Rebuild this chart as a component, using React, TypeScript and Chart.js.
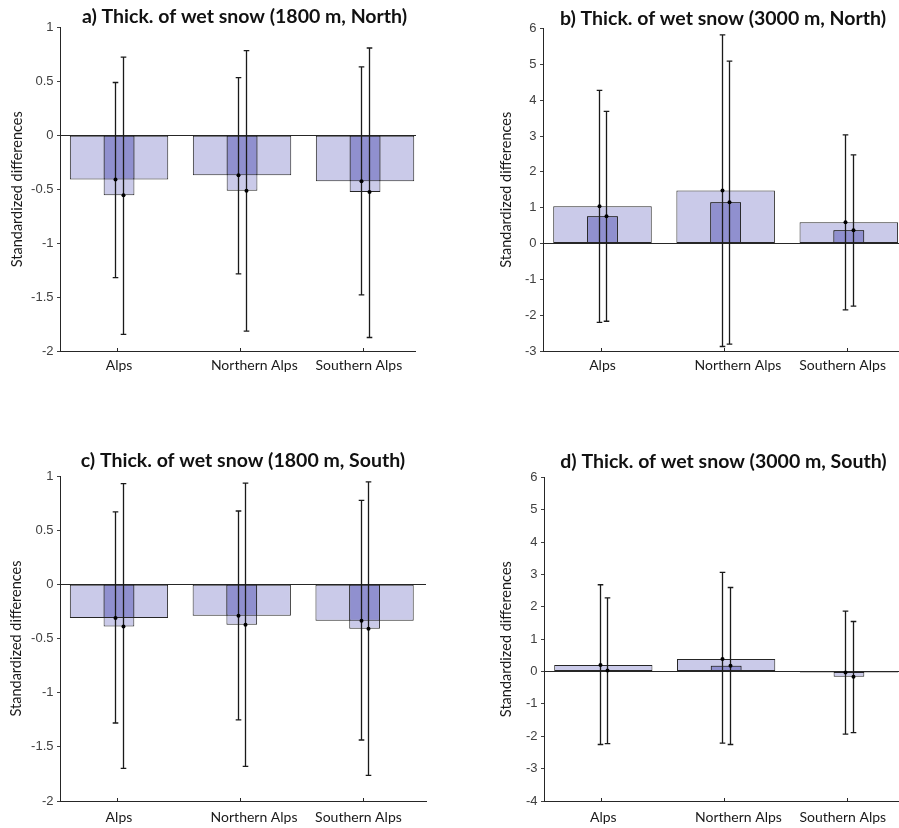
import React, { useEffect, useRef } from 'react';
import { Chart, registerables } from 'chart.js';

Chart.register(...registerables);

// ---------------- data ----------------
const categories = ['Alps', 'Northern Alps', 'Southern Alps'];
const categoryX = [1, 2, 3];

const yTicksNorth1800 = [-2, -1.5, -1, -0.5, 0, 0.5, 1];
const yLabelsNorth1800 = ['-2', '-1.5', '-1', '-0.5', '0', '0.5', '1'];
const yTicksNorth3000 = [-3, -2, -1, 0, 1, 2, 3, 4, 5, 6];
const yLabelsNorth3000 = ['-3', '-2', '-1', '0', '1', '2', '3', '4', '5', '6'];
const yTicksSouth1800 = [-2, -1.5, -1, -0.5, 0, 0.5, 1];
const yLabelsSouth1800 = ['-2', '-1.5', '-1', '-0.5', '0', '0.5', '1'];
const yTicksSouth3000 = [-4, -3, -2, -1, 0, 1, 2, 3, 4, 5, 6];
const yLabelsSouth3000 = ['-4', '-3', '-2', '-1', '0', '1', '2', '3', '4', '5', '6'];

// a) 1800 m, North
const aWide = [-0.41, -0.37, -0.425];
const aNarrow = [-0.555, -0.515, -0.525];
const aWideLow = [-1.32, -1.285, -1.48];
const aWideHigh = [0.49, 0.535, 0.635];
const aNarrowLow = [-1.845, -1.815, -1.875];
const aNarrowHigh = [0.725, 0.785, 0.81];

// b) 3000 m, North
const bWide = [1.04, 1.48, 0.59];
const bNarrow = [0.76, 1.15, 0.37];
const bWideLow = [-2.2, -2.875, -1.855];
const bWideHigh = [4.275, 5.82, 3.03];
const bNarrowLow = [-2.17, -2.81, -1.745];
const bNarrowHigh = [3.69, 5.09, 2.475];

// c) 1800 m, South
const cWide = [-0.31, -0.29, -0.335];
const cNarrow = [-0.39, -0.372, -0.41];
const cWideLow = [-1.28, -1.252, -1.437];
const cWideHigh = [0.668, 0.677, 0.775];
const cNarrowLow = [-1.698, -1.68, -1.763];
const cNarrowHigh = [0.929, 0.935, 0.945];

// d) 3000 m, South
const dWide = [0.205, 0.39, -0.03];
const dNarrow = [0.03, 0.175, -0.16];
const dWideLow = [-2.255, -2.214, -1.936];
const dWideHigh = [2.68, 3.06, 1.864];
const dNarrowLow = [-2.225, -2.255, -1.885];
const dNarrowHigh = [2.276, 2.595, 1.545];

// ---------------- style / layout ----------------
const LIGHT = '#cacae9';
const DARK = '#9090cf';
const EDGE = '#262626';
const AXIS = '#262626';
const ERR = '#1a1a1a';
const labelShift = [0, 0.1, -0.05];
const tickShift = -0.015;
const errShift = 0.03;

const overlapOf = (w: number[], n: number[]) =>
  w.map((v, i) =>
    Math.sign(v) === Math.sign(n[i]) ? Math.sign(v) * Math.min(Math.abs(v), Math.abs(n[i])) : 0
  );

const errPlugin = {
  id: 'errBars',
  afterDatasetsDraw(chart: any, _args: any, opts: any) {
    const { ctx } = chart;
    const x = chart.scales.x;
    const y = chart.scales.y;
    ctx.save();
    // inward tick marks on x axis
    ctx.strokeStyle = AXIS;
    ctx.lineWidth = 1;
    const yb = chart.chartArea.bottom;
    categoryX.forEach((c) => {
      const px = Math.round(x.getPixelForValue(c + tickShift)) + 0.5;
      ctx.beginPath();
      ctx.moveTo(px, yb);
      ctx.lineTo(px, yb - 3);
      ctx.stroke();
    });
    (opts.series || []).forEach((s: any) => {
      s.mean.forEach((m: number, i: number) => {
        const px = Math.round(x.getPixelForValue(categoryX[i] + s.dx)) + 0.5;
        const yl = y.getPixelForValue(s.low[i]);
        const yh = y.getPixelForValue(s.high[i]);
        const ym = y.getPixelForValue(m);
        ctx.strokeStyle = ERR;
        ctx.lineWidth = 1.3;
        ctx.beginPath();
        ctx.moveTo(px, yl);
        ctx.lineTo(px, yh);
        ctx.moveTo(px - 2.8, yl);
        ctx.lineTo(px + 2.8, yl);
        ctx.moveTo(px - 2.8, yh);
        ctx.lineTo(px + 2.8, yh);
        ctx.stroke();
        ctx.fillStyle = '#000';
        ctx.beginPath();
        ctx.arc(px, ym, 2, 0, Math.PI * 2);
        ctx.fill();
      });
    });
    ctx.restore();
  },
};

type PanelCfg = {
  title: string;
  wide: number[];
  narrow: number[];
  wideLow: number[];
  wideHigh: number[];
  narrowLow: number[];
  narrowHigh: number[];
  yTicks: number[];
  yLabels: string[];
  xMin: number;
  xMax: number;
  left: number;
  top: number;
  clipW: number;
  canvasW: number;
  padRight: number;
  yAxisW: number;
  xAxisH: number;
  xLabelPad: number;
  titleTop: number;
  titleBottom: number;
  yTitlePad: number;
};

const panels: PanelCfg[] = [
  {
    title: 'a) Thick. of wet snow (1800 m, North)',
    wide: aWide, narrow: aNarrow, wideLow: aWideLow, wideHigh: aWideHigh,
    narrowLow: aNarrowLow, narrowHigh: aNarrowHigh,
    yTicks: yTicksNorth1800, yLabels: yLabelsNorth1800,
    xMin: 0.52, xMax: 3.52,
    left: 0, top: 0, clipW: 416, canvasW: 440, padRight: 11, yAxisW: 60, xAxisH: 63, xLabelPad: 6,
    titleTop: 7, titleBottom: 1, yTitlePad: 10.5,
  },
  {
    title: 'b) Thick. of wet snow (3000 m, North)',
    wide: bWide, narrow: bNarrow, wideLow: bWideLow, wideHigh: bWideHigh,
    narrowLow: bNarrowLow, narrowHigh: bNarrowHigh,
    yTicks: yTicksNorth3000, yLabels: yLabelsNorth3000,
    xMin: 0.517, xMax: 3.44,
    left: 450, top: 0, clipW: 460, canvasW: 460, padRight: 7, yAxisW: 93, xAxisH: 63, xLabelPad: 6,
    titleTop: 9, titleBottom: 0, yTitlePad: 48.8,
  },
  {
    title: 'c) Thick. of wet snow (1800 m, South)',
    wide: cWide, narrow: cNarrow, wideLow: cWideLow, wideHigh: cWideHigh,
    narrowLow: cNarrowLow, narrowHigh: cNarrowHigh,
    yTicks: yTicksSouth1800, yLabels: yLabelsSouth1800,
    xMin: 0.52, xMax: 3.5,
    left: 0, top: 414, clipW: 450, canvasW: 450, padRight: 24, yAxisW: 60, xAxisH: 27, xLabelPad: 8,
    titleTop: 37, titleBottom: 5.5, yTitlePad: 8.8,
  },
  {
    title: 'd) Thick. of wet snow (3000 m, South)',
    wide: dWide, narrow: dNarrow, wideLow: dWideLow, wideHigh: dWideHigh,
    narrowLow: dNarrowLow, narrowHigh: dNarrowHigh,
    yTicks: yTicksSouth3000, yLabels: yLabelsSouth3000,
    xMin: 0.517, xMax: 3.44,
    left: 450, top: 414, clipW: 460, canvasW: 460, padRight: 7, yAxisW: 94, xAxisH: 27, xLabelPad: 8,
    titleTop: 38, titleBottom: 5.8, yTitlePad: 48.8,
  },
];

const toPts = (arr: number[]) => categoryX.map((x, i) => ({ x, y: arr[i] }));

function Panel({ cfg }: { cfg: PanelCfg }) {
  const ref = useRef<HTMLCanvasElement | null>(null);
  useEffect(() => {
    if (!ref.current) return;
    const overlap = overlapOf(cfg.wide, cfg.narrow);
    const barCommon = {
      borderColor: EDGE,
      borderWidth: 1,
      borderSkipped: false,
      grouped: false,
      categoryPercentage: 1,
    };
    const chart = new Chart(ref.current, {
      type: 'bar',
      data: {
        datasets: [
          { ...barCommon, label: 'wide', data: toPts(cfg.wide), backgroundColor: LIGHT, barPercentage: 0.8, order: 3 },
          { ...barCommon, label: 'narrow', data: toPts(cfg.narrow), backgroundColor: LIGHT, barPercentage: 0.25, order: 2 },
          { ...barCommon, label: 'overlap', data: toPts(overlap), backgroundColor: DARK, barPercentage: 0.25, order: 1 },
        ] as any,
      },
      options: {
        responsive: false,
        animation: false,
        events: [],
        layout: { padding: { left: 0, right: cfg.padRight, top: 0, bottom: 0 } },
        plugins: {
          legend: { display: false },
          tooltip: { enabled: false },
          title: {
            display: true,
            text: cfg.title,
            fullSize: false,
            color: '#111',
            font: { family: 'Lato', size: 19.5, weight: 'bold', lineHeight: 1 },
            padding: { top: cfg.titleTop, bottom: cfg.titleBottom },
          },
          errBars: {
            series: [
              { mean: cfg.wide, low: cfg.wideLow, high: cfg.wideHigh, dx: -errShift },
              { mean: cfg.narrow, low: cfg.narrowLow, high: cfg.narrowHigh, dx: errShift },
            ],
          },
        } as any,
        scales: {
          x: {
            type: 'linear',
            display: false,
            offset: false,
            min: cfg.xMin,
            max: cfg.xMax,
            afterBuildTicks: (s: any) => {
              s.ticks = categoryX.map((v) => ({ value: v }));
            },
          },
          x2: {
            type: 'linear',
            position: 'bottom',
            offset: false,
            min: cfg.xMin,
            max: cfg.xMax,
            afterBuildTicks: (s: any) => {
              s.ticks = categoryX.map((v, i) => ({ value: v + labelShift[i] }));
            },
            afterFit: (s: any) => {
              s.height = cfg.xAxisH;
            },
            ticks: {
              autoSkip: false,
              maxRotation: 0,
              padding: cfg.xLabelPad,
              color: '#1a1a1a',
              font: { family: 'Lato', size: 14 },
              callback: (_v: any, i: number) => categories[i],
            },
            grid: { display: false, drawTicks: false, offset: false },
            border: { display: true, color: AXIS, width: 1 },
          },
          y: {
            min: cfg.yTicks[0],
            max: cfg.yTicks[cfg.yTicks.length - 1],
            afterBuildTicks: (s: any) => {
              s.ticks = cfg.yTicks.map((v) => ({ value: v }));
            },
            afterFit: (s: any) => {
              s.width = cfg.yAxisW;
            },
            ticks: {
              autoSkip: false,
              padding: 3.5,
              color: '#404040',
              font: { family: 'Liberation Sans', size: 13 },
              callback: (_v: any, i: number) => cfg.yLabels[i],
            },
            grid: {
              color: (c: any) => (c.tick && c.tick.value === 0 ? AXIS : 'rgba(0,0,0,0)'),
              tickColor: '#404040',
              tickLength: 3,
              drawTicks: true,
              lineWidth: 1,
            },
            border: { display: true, color: AXIS, width: 1 },
            title: {
              display: true,
              text: 'Standardized differences',
              color: '#1a1a1a',
              font: { family: 'Lato', size: 14.5, lineHeight: 1 },
              padding: { top: cfg.yTitlePad, bottom: 0 },
            },
          },
        } as any,
      },
      plugins: [errPlugin],
    });
    return () => chart.destroy();
  }, [cfg]);

  return (
    <div
      style={{
        position: 'absolute',
        left: cfg.left,
        top: cfg.top,
        width: cfg.clipW,
        height: 414,
        overflow: 'hidden',
      }}
    >
      <canvas ref={ref} width={cfg.canvasW} height={414} style={{ display: 'block' }} />
    </div>
  );
}

export default function App() {
  return (
    <div
      style={{
        position: 'absolute',
        left: 0,
        top: 0,
        width: 899,
        height: 828,
        overflow: 'hidden',
        background: '#fff',
      }}
    >
      {panels.map((p, i) => (
        <Panel key={i} cfg={p} />
      ))}
    </div>
  );
}
